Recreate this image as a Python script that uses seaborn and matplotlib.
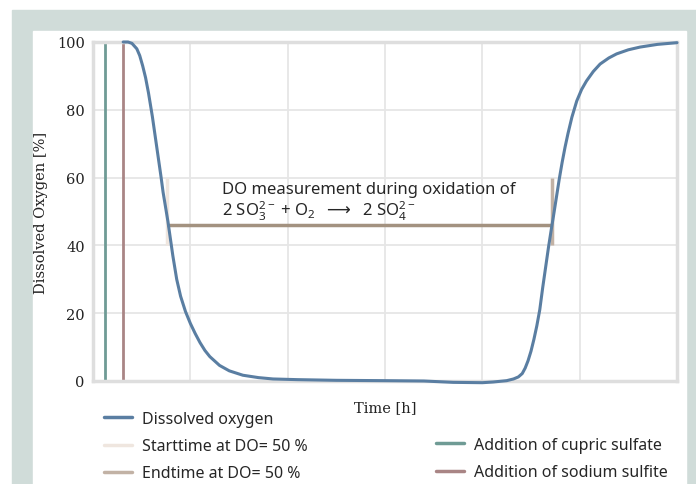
import numpy as np
import pandas as pd
import matplotlib
matplotlib.use("Agg")
import matplotlib.pyplot as plt
from matplotlib.lines import Line2D
from matplotlib.patches import Rectangle
import seaborn as sns

# (time in grid units, DO in %)
time_h = [0.31, 0.36, 0.40, 0.45, 0.48, 0.51, 0.54, 0.57, 0.59, 0.61, 0.64, 0.67,
          0.70, 0.72, 0.75, 0.77, 0.80, 0.82, 0.86, 0.90, 0.95, 1.00, 1.05, 1.10,
          1.15, 1.20, 1.30, 1.40, 1.54, 1.70, 1.85, 2.10, 2.50, 3.00, 3.40, 3.70,
          4.00, 4.11, 4.25, 4.32, 4.37, 4.41, 4.44, 4.47, 4.50, 4.53, 4.56, 4.59,
          4.62, 4.65, 4.68, 4.71, 4.73, 4.76, 4.79, 4.82, 4.85, 4.88, 4.92, 4.97,
          5.02, 5.07, 5.14, 5.21, 5.30, 5.38, 5.50, 5.62, 5.80, 5.96, 6.00]
do_pct = [100.0, 100.0, 99.6, 98.0, 96.0, 93.0, 89.5, 85.0, 81.5, 78.0, 72.0, 66.0,
          60.0, 55.7, 50.5, 47.0, 41.0, 37.0, 30.0, 25.0, 20.5, 17.0, 14.0, 11.3,
          9.0, 7.2, 4.6, 3.0, 1.7, 1.0, 0.6, 0.4, 0.2, 0.1, 0.0, -0.4,
          -0.5, -0.3, 0.1, 0.6, 1.2, 2.2, 3.8, 6.0, 8.8, 12.3, 16.3, 21.0,
          27.5, 33.5, 39.5, 45.0, 48.5, 54.0, 59.5, 64.5, 69.0, 73.0, 77.8, 82.6,
          86.0, 88.5, 91.3, 93.5, 95.3, 96.5, 97.7, 98.5, 99.3, 99.7, 99.8]

t_cupric = 0.12
t_sulfite = 0.31
t_start = 0.76
t_end = 4.72
do_level = 46
marker_range = [40, 60]

legend_left = ["Dissolved oxygen", "Starttime at DO= 50 %", "Endtime at DO= 50 %"]
legend_right = ["Addition of cupric sulfate", "Addition of sodium sulfite"]

c_do = "#5a7ea2"
c_start = "#efe6df"
c_end = "#c2b2a5"
c_span = "#a39280"
c_cupric = "#6f9b95"
c_sulfite = "#a98585"

sns.set_theme(style="whitegrid")
plt.rcParams["font.family"] = ["Noto Sans", "DejaVu Sans"]

df = pd.DataFrame({"time": time_h, "do": do_pct})

fig = plt.figure(figsize=(6.96, 4.85), dpi=100)
fig.patch.set_facecolor("white")
fig.patches.append(Rectangle((12 / 696, 0), 1 - 12 / 696, (485 - 11) / 485,
                             transform=fig.transFigure, color="#d0dcd9", zorder=-2))
fig.patches.append(Rectangle((33 / 696, 0), (686 - 33) / 696, (485 - 32) / 485,
                             transform=fig.transFigure, color="white", zorder=-1))

ax = fig.add_axes([93 / 696, 1 - 382 / 485, (677 - 93) / 696, (382 - 43) / 485])
ax.set_facecolor("white")

ax.vlines(t_cupric, 0, 100, color=c_cupric, lw=2)
ax.vlines(t_sulfite, 0, 100, color=c_sulfite, lw=2)
ax.vlines(t_start, *marker_range, color=c_start, lw=2.5)
ax.vlines(t_end, *marker_range, color=c_end, lw=2.5)
ax.hlines(do_level, t_start, t_end, color=c_span, lw=2.5)

sns.lineplot(data=df, x="time", y="do", ax=ax, color=c_do, lw=2.2, clip_on=False, zorder=5)

ax.text(1.33, 56.5, "DO measurement during oxidation of", fontsize=12, va="center")
ax.text(1.33, 50.3, r"2 SO$\mathregular{_3^{2-}}$ + O$\mathregular{_2}$  $\longrightarrow$  2 SO$\mathregular{_4^{2-}}$",
        fontsize=12, va="center")

ax.set_xlim(0, 6)
ax.set_ylim(0, 100)
ax.set_xticks(range(7))
ax.set_xticklabels([])
ax.set_yticks(range(0, 101, 20))
ax.tick_params(axis="both", length=0, pad=6)
for lab in ax.get_yticklabels():
    lab.set_family("DejaVu Serif")
    lab.set_fontsize(10.5)
    lab.set_color("#222222")
ax.grid(True, color="#e6e6e6", lw=1.3)
for s in ax.spines.values():
    s.set_visible(True)
    s.set_color("#dedede")
    s.set_linewidth(2.5)

ax.set_xlabel("Time [h]", family="DejaVu Serif", fontsize=10.5, color="#222222", labelpad=8)
ax.set_ylabel("Dissolved Oxygen [%]", family="DejaVu Serif", fontsize=10.5, color="#222222", labelpad=6)

h_left = [Line2D([], [], color=c_do, lw=2.5),
          Line2D([], [], color=c_start, lw=2.5),
          Line2D([], [], color=c_end, lw=2.5)]
h_right = [Line2D([], [], color=c_cupric, lw=2.5),
           Line2D([], [], color=c_sulfite, lw=2.5)]
kw = dict(loc="upper left", frameon=False, fontsize=11.5, handlelength=1.75,
          handletextpad=0.65, labelspacing=0.7, borderpad=0, borderaxespad=0)
fig.legend(h_left, legend_left, bbox_to_anchor=(104 / 696, 1 - 412 / 485), **kw)
fig.legend(h_right, legend_right, bbox_to_anchor=(436 / 696, 1 - 438 / 485), **kw)

fig.savefig("out.png", dpi=100)
